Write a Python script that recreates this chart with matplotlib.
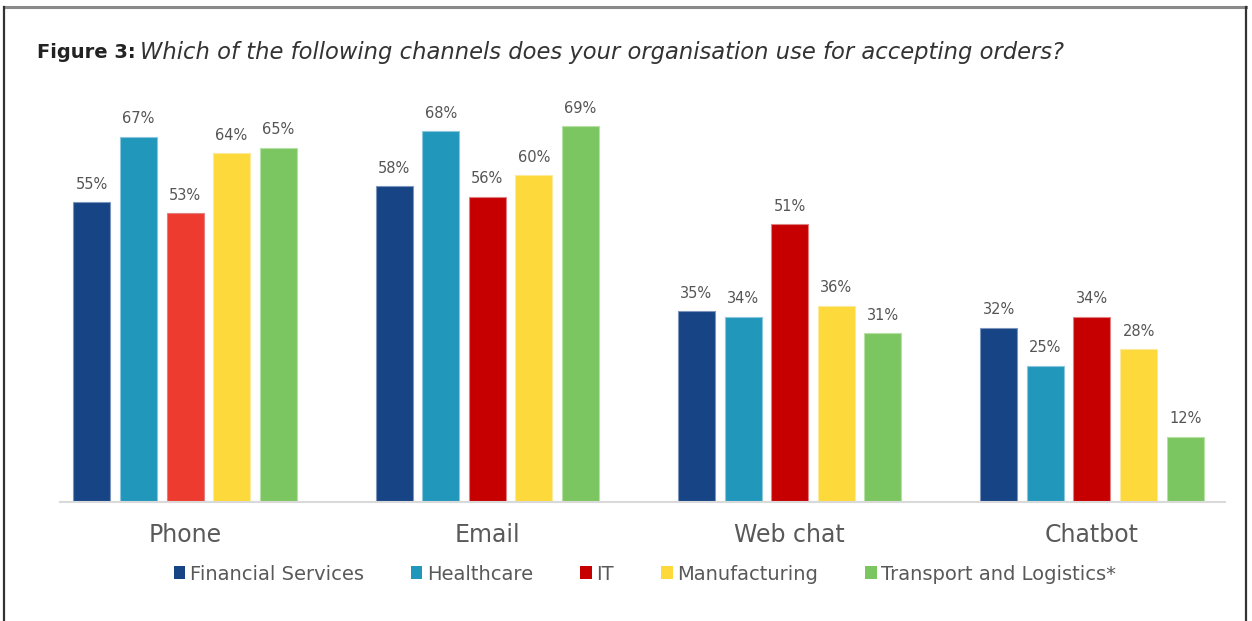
import matplotlib
matplotlib.use("Agg")
import matplotlib.pyplot as plt
import numpy as np
from matplotlib.lines import Line2D
from matplotlib.patches import Patch

channels = ["Phone", "Email", "Web chat", "Chatbot"]
sectors = ["Financial Services", "Healthcare", "IT", "Manufacturing", "Transport and Logistics*"]
financial = [55, 58, 35, 32]
healthcare = [67, 68, 34, 25]
it = [53, 56, 51, 34]
manufacturing = [64, 60, 36, 28]
transport = [65, 69, 31, 12]

series = [financial, healthcare, it, manufacturing, transport]
colors = ["#164484", "#2297BC", "#C60000", "#FED93B", "#7CC662"]
edges = ["#7d95bd", "#8cc6dc", "#e08080", "#fde99a", "#b6e0a6"]
# the Phone/IT bar is drawn in a brighter red
it_phone_color = "#EE3B2F"

W, H = 1252, 621
fig = plt.figure(figsize=(W / 100, H / 100), dpi=100)
fig.patch.set_facecolor("white")

# frame lines around the figure
fig.add_artist(Line2D([4 / W, 1246 / W], [1 - 7 / H, 1 - 7 / H], color="#8a8a8a", lw=2.2))
fig.add_artist(Line2D([4 / W, 4 / W], [0, 1 - 7 / H], color="#333333", lw=1.6))
fig.add_artist(Line2D([1246 / W, 1246 / W], [0, 1 - 7 / H], color="#333333", lw=1.6))

# axes: baseline at y=502px, top at y=100px
ax_left, ax_right = 60 / W, 1225 / W
ax_bottom = 1 - 502 / H
ax_top = 1 - 100 / H
ax = fig.add_axes([ax_left, ax_bottom, ax_right - ax_left, ax_top - ax_bottom])

px_per_unit = 5.45
ax.set_ylim(0, (502 - 100) / px_per_unit)

pitch = 302.3
offset = 46.6 / pitch
width = 37 / pitch
x = np.arange(len(channels))

for j, (vals, c, ec) in enumerate(zip(series, colors, edges)):
    cols = [c] * len(vals)
    if j == 2:
        cols[0] = it_phone_color
    xs = x + (j - 2) * offset
    ax.bar(xs, vals, width=width, color=cols, edgecolor=ec, linewidth=0.8, zorder=2)
    for xi, v in zip(xs, vals):
        ax.text(xi, v + 1.9, f"{v}%", ha="center", va="bottom", fontsize=10.5,
                color="#555555", family="DejaVu Sans")

ax.set_xlim((60 - 185) / pitch, 3 + (1225 - 1092) / pitch)

for s in ["top", "right", "left"]:
    ax.spines[s].set_visible(False)
ax.spines["bottom"].set_color("#d9d9d9")
ax.spines["bottom"].set_linewidth(1.5)
ax.set_yticks([])
ax.set_xticks(x)
ax.set_xticklabels(channels, fontsize=17, color="#595959", family="DejaVu Sans")
ax.tick_params(axis="x", length=0, pad=15)

# legend
handles = [Patch(facecolor=c, edgecolor="none") for c in colors]
fig.legend(handles, sectors, loc="center", bbox_to_anchor=(645 / W, 1 - 574 / H),
           ncol=5, frameon=False, fontsize=14, handlelength=0.6, handleheight=0.6,
           handletextpad=0.25, columnspacing=2.4, labelcolor="#595959")

# title
fig.text(37 / W, 1 - 53 / H, "Figure 3:", fontsize=14, fontweight="bold",
         color="#222222", va="center", ha="left")
fig.text(140 / W, 1 - 53 / H,
         "Which of the following channels does your organisation use for accepting orders?",
         fontsize=16.3, style="italic", color="#333333", va="center", ha="left")

fig.savefig("out.png", dpi=100, facecolor="white")
